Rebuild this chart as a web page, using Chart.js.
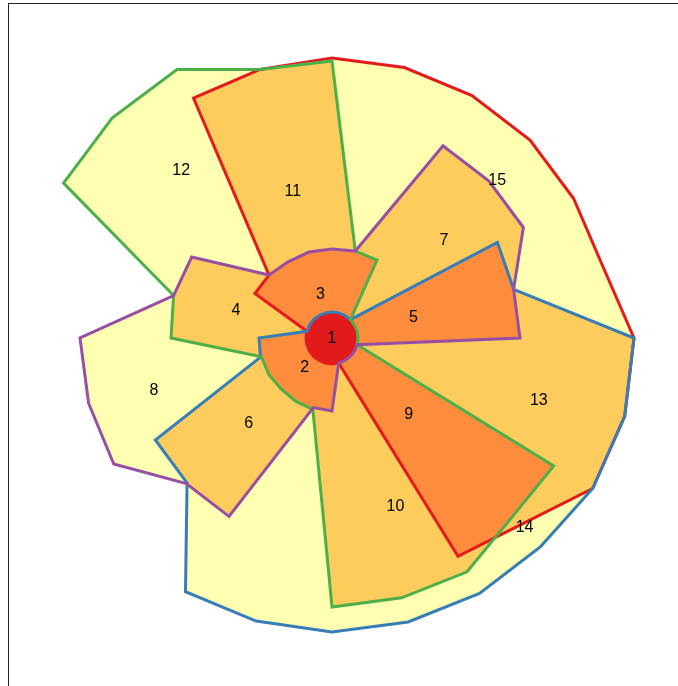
<!DOCTYPE html>
<html>
<head>
<meta charset="utf-8">
<script src="https://cdn.jsdelivr.net/npm/chart.js"></script>
<style>
  html, body { margin: 0; padding: 0; background: #fff; overflow: hidden; }
  #frame { position: absolute; left: 8px; top: 3px; width: 670px; height: 683px;
           border-left: 1px solid #222; border-top: 1px solid #222; }
  #wrap { position: absolute; left: 0; top: 0; width: 664px; height: 676px; }
</style>
</head>
<body>
<div id="frame"></div>
<div id="wrap"><canvas id="Chart"></canvas></div>
<script>
// 24 spokes, 15 deg apart, starting at the top and going clockwise
const spokes = ["0","15","30","45","60","75","90","105","120","135","150","165",
                "180","195","210","225","240","255","270","285","300","315","330","345"];

// radius of each set's outline on every spoke
const redSet    = [280,280,280,280,279,280,302,303,301,265,252,26,26,26,26,26,26,26,26,26,89,89,277,278];
const blueSet   = [26,26,26,26,191,188,302,303,301,295,295,294,294,293,293,205,204,74,73,26,26,26,26,26];
const greenSet  = [277,90,90,26,26,26,26,26,256,254,270,269,269,74,73,72,73,73,161,164,310,311,310,278];
const purpleSet = [89,90,222,222,221,188,188,26,26,26,26,26,73,72,206,206,252,252,252,164,162,89,88,89];

const setValues = [redSet, blueSet, greenSet, purpleSet];
const setColors = ["#E41A1C", "#377EB8", "#4DAF4A", "#984EA3"];
// fill by how many sets overlap: 1, 2, 3, 4
const fillColors = ["#FFFFB2", "#FECC5C", "#FD8D3C", "#E31A1C"];

// region labels: angle (deg, clockwise from top) and radius
const regionNames  = ["1","2","3","4","5","6","7","8","9","10","11","12","13","14","15"];
const regionAngles = [0,223.5,345.4,286.3,75.4,224.5,48.8,253.7,134.7,159.3,345.1,318.1,106.5,134.4,46.3];
const regionRadii  = [0,39.5,45.5,100,84.2,118.7,148.7,185.6,108,179.3,152.6,225.8,215.7,269.6,228.6];

const bitCount = m => m.toString(2).split("1").length - 1;

const overlapFill = {
  id: "overlapFill",
  beforeDatasetsDraw(chart) {
    const ctx = chart.ctx;
    const shapes = setValues.map((v, j) => chart.getDatasetMeta(j).data);
    const trace = pts => {
      ctx.beginPath();
      pts.forEach((p, k) => k ? ctx.lineTo(p.x, p.y) : ctx.moveTo(p.x, p.y));
      ctx.closePath();
    };
    const masks = [];
    for (let m = 1; m < 16; m++) masks.push(m);
    masks.sort((a, b) => bitCount(a) - bitCount(b));
    masks.forEach(m => {
      const members = [0, 1, 2, 3].filter(j => m & (1 << j));
      ctx.save();
      members.slice(0, -1).forEach(j => { trace(shapes[j]); ctx.clip(); });
      trace(shapes[members[members.length - 1]]);
      ctx.fillStyle = fillColors[members.length - 1];
      ctx.fill();
      ctx.restore();
    });
  }
};

const regionLabels = {
  id: "regionLabels",
  afterDatasetsDraw(chart) {
    const ctx = chart.ctx, r = chart.scales.r;
    ctx.save();
    ctx.font = "16px 'Liberation Sans', Arial, sans-serif";
    ctx.fillStyle = "#000";
    ctx.textAlign = "center";
    ctx.textBaseline = "middle";
    regionNames.forEach((name, i) => {
      const d = r.getDistanceFromCenterForValue(regionRadii[i]);
      const a = regionAngles[i] * Math.PI / 180;
      ctx.fillText(name, r.xCenter + d * Math.sin(a), r.yCenter - d * Math.cos(a) + 1);
    });
    ctx.restore();
  }
};

new Chart("Chart", {
  type: "radar",
  data: {
    labels: spokes,
    datasets: setValues.map((vals, i) => ({
      data: vals,
      borderColor: setColors[i],
      borderWidth: 3,
      fill: false,
      pointRadius: 0,
      pointHoverRadius: 0,
      order: 4 - i
    }))
  },
  options: {
    responsive: true,
    maintainAspectRatio: false,
    animation: false,
    events: [],
    elements: { line: { tension: 0, borderJoinStyle: "miter" } },
    plugins: { legend: {display: false}, tooltip: {enabled: false} },
    scales: {
      r: {
        min: 0, max: 332,
        ticks: {display: false},
        grid: {display: false},
        angleLines: {display: false},
        pointLabels: {display: false}
      }
    }
  },
  plugins: [overlapFill, regionLabels]
});
</script>
</body>
</html>
